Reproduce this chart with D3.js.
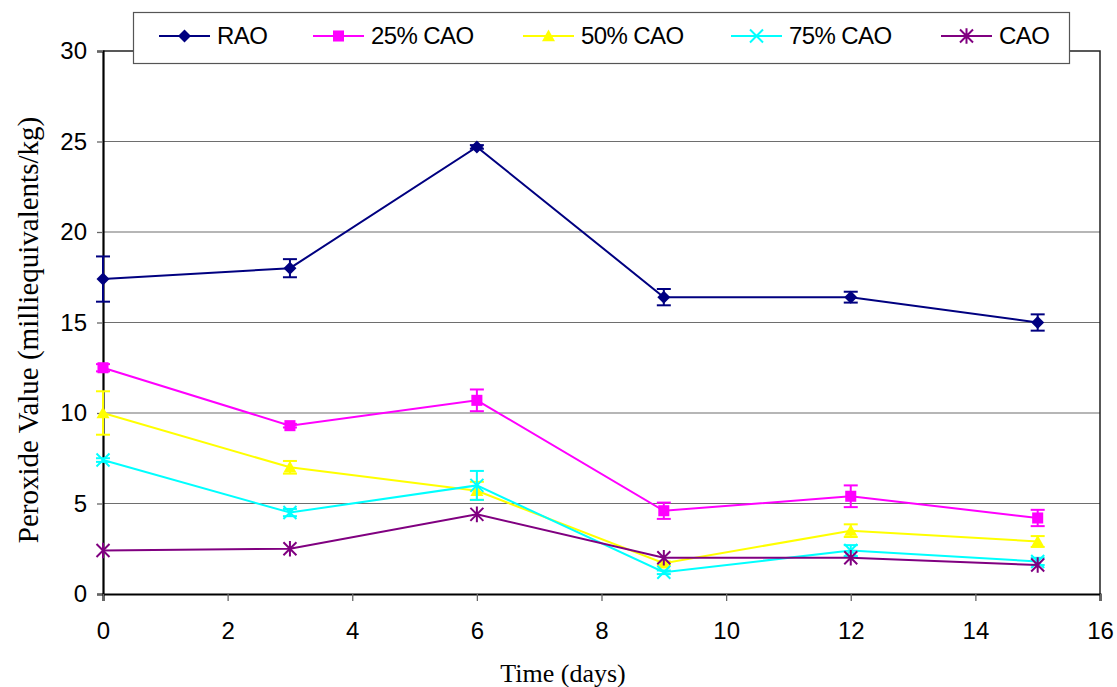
<!DOCTYPE html>
<html>
<head>
<meta charset="utf-8">
<script src="https://cdn.jsdelivr.net/npm/d3@7"></script>
<style>
  html, body { margin: 0; padding: 0; background: #fff; }
  svg { display: block; }
</style>
</head>
<body>
<svg id="chart" width="1117" height="687"></svg>
<script>
// Sampling days
const days = [0, 3, 6, 9, 12, 15];

// Series names
const seriesNames = ["RAO", "25% CAO", "50% CAO", "75% CAO", "CAO"];

// Peroxide values (meq/kg)
const raoValues   = [17.4, 18.0, 24.7, 16.4, 16.4, 15.0];
const cao25Values = [12.5, 9.3, 10.7, 4.6, 5.4, 4.2];
const cao50Values = [10.0, 7.0, 5.7, 1.7, 3.5, 2.9];
const cao75Values = [7.4, 4.5, 6.0, 1.2, 2.4, 1.8];
const caoValues   = [2.4, 2.5, 4.4, 2.0, 2.0, 1.6];

// Standard deviations (error bars)
const raoErr   = [1.25, 0.5, 0.1, 0.45, 0.3, 0.45];
const cao25Err = [0.2, 0.1, 0.6, 0.45, 0.6, 0.45];
const cao50Err = [1.2, 0.35, 0.5, 0.1, 0.35, 0.3];
const cao75Err = [0.1, 0.2, 0.8, 0.1, 0.3, 0.2];
const caoErr   = [0, 0, 0, 0, 0, 0];

// Axis ticks
const xTicks = [0, 2, 4, 6, 8, 10, 12, 14, 16];
const yTicks = [0, 5, 10, 15, 20, 25, 30];

const seriesColors = ["#000080", "#FF00FF", "#FFFF00", "#00FFFF", "#800080"];
const seriesMarkers = ["diamond", "square", "triangle", "cross", "asterisk"];
const seriesValues = [raoValues, cao25Values, cao50Values, cao75Values, caoValues];
const seriesErrors = [raoErr, cao25Err, cao50Err, cao75Err, caoErr];

const series = seriesNames.map((name, i) => ({
  name,
  color: seriesColors[i],
  marker: seriesMarkers[i],
  points: days.map((d, j) => ({ x: d, y: seriesValues[i][j], e: seriesErrors[i][j] }))
}));

const svg = d3.select("#chart");
const plot = { left: 103, right: 1100, top: 51, bottom: 594 };

const x = d3.scaleLinear().domain([0, 16]).range([plot.left, plot.right]);
const y = d3.scaleLinear().domain([0, 30]).range([plot.bottom, plot.top]);

// Horizontal gridlines
svg.append("g")
  .selectAll("line")
  .data(yTicks.filter(v => v > 0 && v < 30))
  .join("line")
  .attr("x1", plot.left).attr("x2", plot.right)
  .attr("y1", d => y(d)).attr("y2", d => y(d))
  .attr("stroke", "#6e6e6e").attr("stroke-width", 1.2);

// Plot frame (top and right edges)
svg.append("path")
  .attr("d", `M${plot.left},${y(30)}H${x(16)}V${plot.bottom}`)
  .attr("fill", "none").attr("stroke", "#222").attr("stroke-width", 1.5);

// Axes
const yAxis = d3.axisLeft(y).tickValues(yTicks).tickSize(6).tickPadding(10);
const xAxis = d3.axisBottom(x).tickValues(xTicks).tickSize(7).tickPadding(21);

const gy = svg.append("g").attr("transform", `translate(${plot.left},0)`).call(yAxis);
const gx = svg.append("g").attr("transform", `translate(0,${plot.bottom})`).call(xAxis);

[gx, gy].forEach(g => {
  g.select(".domain").attr("stroke", "#000").attr("stroke-width", 2.2);
  g.selectAll(".tick line").attr("stroke", "#666").attr("stroke-width", 1.3);
  g.selectAll(".tick text")
    .attr("fill", "#000")
    .style("font-family", "'Liberation Sans', Arial, sans-serif")
    .style("font-size", "24px");
});

// Marker shapes
function markerPath(type, r) {
  const p = d3.path();
  if (type === "diamond") {
    p.moveTo(0, -r); p.lineTo(r, 0); p.lineTo(0, r); p.lineTo(-r, 0); p.closePath();
  } else if (type === "square") {
    p.rect(-r * 0.85, -r * 0.85, r * 1.7, r * 1.7);
  } else if (type === "triangle") {
    p.moveTo(0, -r); p.lineTo(r, r * 0.8); p.lineTo(-r, r * 0.8); p.closePath();
  } else if (type === "cross") {
    p.moveTo(-r, -r); p.lineTo(r, r); p.moveTo(r, -r); p.lineTo(-r, r);
  } else if (type === "asterisk") {
    p.moveTo(-r, -r); p.lineTo(r, r); p.moveTo(r, -r); p.lineTo(-r, r);
    p.moveTo(0, -r * 1.2); p.lineTo(0, r * 1.2);
  }
  return p.toString();
}
const isStroked = t => t === "cross" || t === "asterisk";

const line = d3.line().x(d => x(d.x)).y(d => y(d.y));

series.forEach(s => {
  const g = svg.append("g");
  // connecting line
  g.append("path")
    .attr("d", line(s.points))
    .attr("fill", "none").attr("stroke", s.color).attr("stroke-width", 2);

  // error bars
  const eb = g.selectAll("g.err").data(s.points.filter(p => p.e > 0)).join("g");
  eb.append("line")
    .attr("x1", d => x(d.x)).attr("x2", d => x(d.x))
    .attr("y1", d => y(d.y - d.e)).attr("y2", d => y(d.y + d.e))
    .attr("stroke", s.color).attr("stroke-width", 2);
  eb.selectAll("line.cap")
    .data(d => [d.y - d.e, d.y + d.e].map(v => ({ x: d.x, v })))
    .join("line")
    .attr("class", "cap")
    .attr("x1", d => x(d.x) - 7).attr("x2", d => x(d.x) + 7)
    .attr("y1", d => y(d.v)).attr("y2", d => y(d.v))
    .attr("stroke", s.color).attr("stroke-width", 2);

  // markers
  g.selectAll("path.mk").data(s.points).join("path")
    .attr("class", "mk")
    .attr("transform", d => `translate(${x(d.x)},${y(d.y)})`)
    .attr("d", markerPath(s.marker, 6.5))
    .attr("fill", isStroked(s.marker) ? "none" : s.color)
    .attr("stroke", s.color)
    .attr("stroke-width", isStroked(s.marker) ? 2 : 0);
});

// Legend
const legend = svg.append("g");
legend.append("rect")
  .attr("x", 133.5).attr("y", 12.5).attr("width", 936).attr("height", 51)
  .attr("fill", "#fff").attr("stroke", "#555").attr("stroke-width", 1.2);

const legendX = [159, 313, 523, 731, 941];
series.forEach((s, i) => {
  const lg = legend.append("g").attr("transform", `translate(${legendX[i]},36)`);
  lg.append("line").attr("x1", 0).attr("x2", 51).attr("y1", 0).attr("y2", 0)
    .attr("stroke", s.color).attr("stroke-width", 2);
  lg.append("path").attr("transform", "translate(25.5,0)")
    .attr("d", markerPath(s.marker, 6.5))
    .attr("fill", isStroked(s.marker) ? "none" : s.color)
    .attr("stroke", s.color)
    .attr("stroke-width", isStroked(s.marker) ? 2 : 0);
  lg.append("text")
    .attr("x", 58).attr("y", 8)
    .style("font-family", "'Liberation Sans', Arial, sans-serif")
    .style("font-size", "24px")
    .style("letter-spacing", "-0.6px")
    .text(s.name);
});

// Axis titles
svg.append("text")
  .attr("transform", "translate(38,330) rotate(-90)")
  .attr("text-anchor", "middle")
  .style("font-family", "'Liberation Serif', 'Times New Roman', serif")
  .style("font-size", "29px")
  .text("Peroxide Value (milliequivalents/kg)");

svg.append("text")
  .attr("x", 563).attr("y", 682)
  .attr("text-anchor", "middle")
  .style("font-family", "'Liberation Serif', 'Times New Roman', serif")
  .style("font-size", "26px")
  .text("Time (days)");
</script>
</body>
</html>
